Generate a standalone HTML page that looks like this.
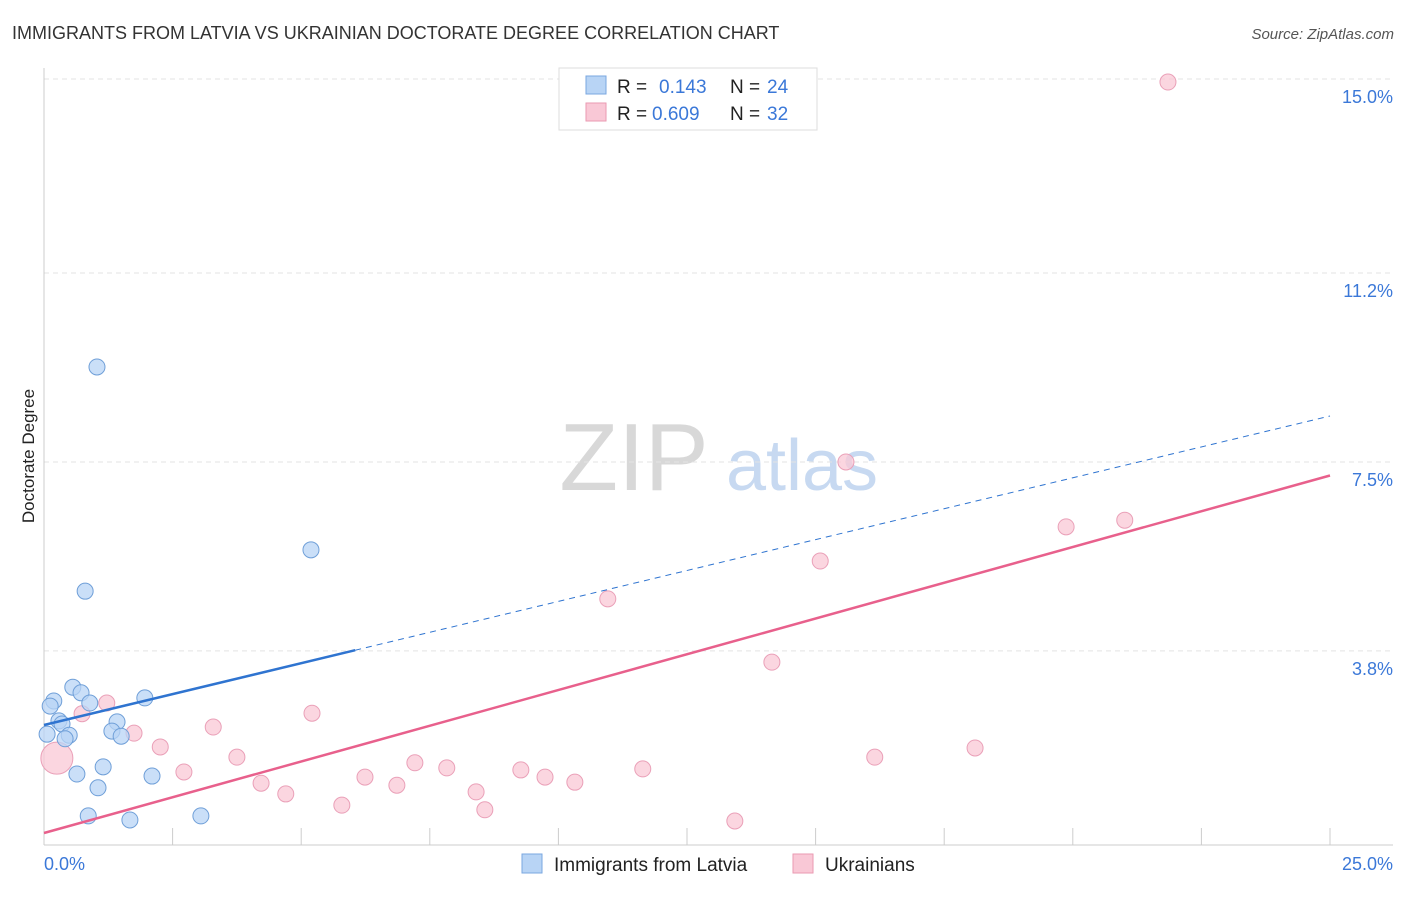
<!DOCTYPE html>
<html><head><meta charset="utf-8"><style>
body{margin:0;background:#fff;font-family:"Liberation Sans",sans-serif;}
svg text{font-family:"Liberation Sans",sans-serif;}
</style></head><body>
<svg id="c" width="1406" height="892">
<text x="12" y="39" font-size="18" fill="#333">IMMIGRANTS FROM LATVIA VS UKRAINIAN DOCTORATE DEGREE CORRELATION CHART</text>
<text x="1394" y="39" font-size="15" fill="#555" font-style="italic" text-anchor="end">Source: ZipAtlas.com</text>
<text x="34" y="456" font-size="17" fill="#222" text-anchor="middle" transform="rotate(-90 34 456)">Doctorate Degree</text>
<g>
<text x="634" y="490" font-size="96" fill="#d8d8d8" font-family="Liberation Serif" text-anchor="middle">ZIP</text>
<text x="802" y="490" font-size="72" fill="#c7d9f1" text-anchor="middle">atlas</text>
</g>
<g id="grid"></g>
<g id="axes"></g>
<g id="marks"></g>
<g>
<rect x="559" y="68" width="258" height="62" fill="#fff" stroke="#ddd"/>
<rect x="586" y="76" width="20" height="18" fill="#b8d4f5" stroke="#7aa7e0"/>
<text x="617" y="93" font-size="19" fill="#222">R = </text><text x="659" y="93" font-size="19" fill="#3b78d8">0.143</text>
<text x="730" y="93" font-size="19" fill="#222">N = </text><text x="767" y="93" font-size="19" fill="#3b78d8">24</text>
<rect x="586" y="103" width="20" height="18" fill="#f9c8d6" stroke="#ea9ab2"/>
<text x="617" y="120" font-size="19" fill="#222">R = </text><text x="652" y="120" font-size="19" fill="#3b78d8">0.609</text>
<text x="730" y="120" font-size="19" fill="#222">N = </text><text x="767" y="120" font-size="19" fill="#3b78d8">32</text>
</g>
<g>
<rect x="522" y="854" width="20" height="19" fill="#b8d4f5" stroke="#7aa7e0"/>
<text x="554" y="871" font-size="19" fill="#222">Immigrants from Latvia</text>
<rect x="793" y="854" width="20" height="19" fill="#f9c8d6" stroke="#ea9ab2"/>
<text x="825" y="871" font-size="19" fill="#222">Ukrainians</text>
</g>
</svg>
<script>
const blueX=[1.03,0.80,5.19,0.19,0.12,0.56,0.72,0.89,1.96,0.29,0.35,1.42,1.32,1.50,0.49,0.41,0.06,1.15,0.64,2.10,1.05,0.86,1.67,3.05];
const blueY=[9.36,4.97,5.78,2.82,2.72,3.09,2.98,2.78,2.88,2.43,2.37,2.41,2.23,2.13,2.15,2.08,2.17,1.53,1.39,1.35,1.12,0.57,0.49,0.57];
const pinkX=[21.85,15.59,19.87,21.01,15.09,10.96,14.15,5.21,1.22,0.74,1.75,3.29,2.26,3.75,2.72,4.22,4.70,5.79,6.24,6.86,7.21,7.83,8.40,8.57,9.27,9.74,10.32,11.64,13.43,16.15,18.10,0.25];
const pinkY=[14.94,7.50,6.23,6.36,5.56,4.82,3.58,2.58,2.78,2.57,2.19,2.31,1.92,1.72,1.43,1.21,1.00,0.78,1.33,1.17,1.61,1.51,1.04,0.69,1.47,1.33,1.23,1.49,0.47,1.72,1.90,1.70];
const yTicks=[3.8,7.5,11.2,15.0];
const yTickLabels=["3.8%","7.5%","11.2%","15.0%"];
const xTickLabels=["0.0%","25.0%"];
const blueTrend=[2.35,0.242];
const pinkTrend=[0.235,0.28];
const NS="http://www.w3.org/2000/svg";
const sx=v=>44+v*51.44, sy=v=>845-v*51.07;
function mk(p,t,a){const e=document.createElementNS(NS,t);for(const k in a)e.setAttribute(k,a[k]);document.getElementById(p).appendChild(e);return e;}
yTicks.forEach((t,i)=>{
 const g=mk('grid','line',{x1:44,x2:1393,y1:sy(t),y2:sy(t),stroke:'#e3e3e3','stroke-dasharray':'5,4'});
 
 
 const l=mk('axes','text',{x:1393,y:sy(t)+24,'font-size':18,fill:'#3b78d8','text-anchor':'end'});
 l.textContent=yTickLabels[i];
 
 
});
let a=mk('axes','line',{x1:44,x2:44,y1:68,y2:845,stroke:'#ccc'});


a=mk('axes','line',{x1:44,x2:1393,y1:845,y2:845,stroke:'#ccc'});


for(let i=1;i<=10;i++){const t=mk('axes','line',{x1:sx(i*2.5),x2:sx(i*2.5),y1:828,y2:845,stroke:'#ccc'});
 
 }
let xl=mk('axes','text',{x:44,y:870,'font-size':18,fill:'#3b78d8'});xl.textContent=xTickLabels[0];


xl=mk('axes','text',{x:1393,y:870,'font-size':18,fill:'#3b78d8','text-anchor':'end'});xl.textContent=xTickLabels[1];


pinkX.forEach((x,i)=>{const c=mk('marks','circle',{cx:sx(x),cy:sy(pinkY[i]),r:i==pinkX.length-1?16:8,fill:'#f9c8d6','fill-opacity':0.75,stroke:'#eaa0b8'});
 
 });
blueX.forEach((x,i)=>{const c=mk('marks','circle',{cx:sx(x),cy:sy(blueY[i]),r:8,fill:'#b8d4f5','fill-opacity':0.75,stroke:'#6f9fd8'});
 
 });
let t=mk('marks','line',{x1:sx(0),y1:sy(blueTrend[0]),x2:sx(6.05),y2:sy(blueTrend[0]+blueTrend[1]*6.05),stroke:'#2f74d0','stroke-width':2.5});


t=mk('marks','line',{x1:sx(6.05),y1:sy(blueTrend[0]+blueTrend[1]*6.05),x2:sx(25),y2:sy(blueTrend[0]+blueTrend[1]*25),stroke:'#2f74d0','stroke-width':1,'stroke-dasharray':'6,5'});


t=mk('marks','line',{x1:sx(0),y1:sy(pinkTrend[0]),x2:sx(25),y2:sy(pinkTrend[0]+pinkTrend[1]*25),stroke:'#e8608c','stroke-width':2.5});


</script>
</body></html>
